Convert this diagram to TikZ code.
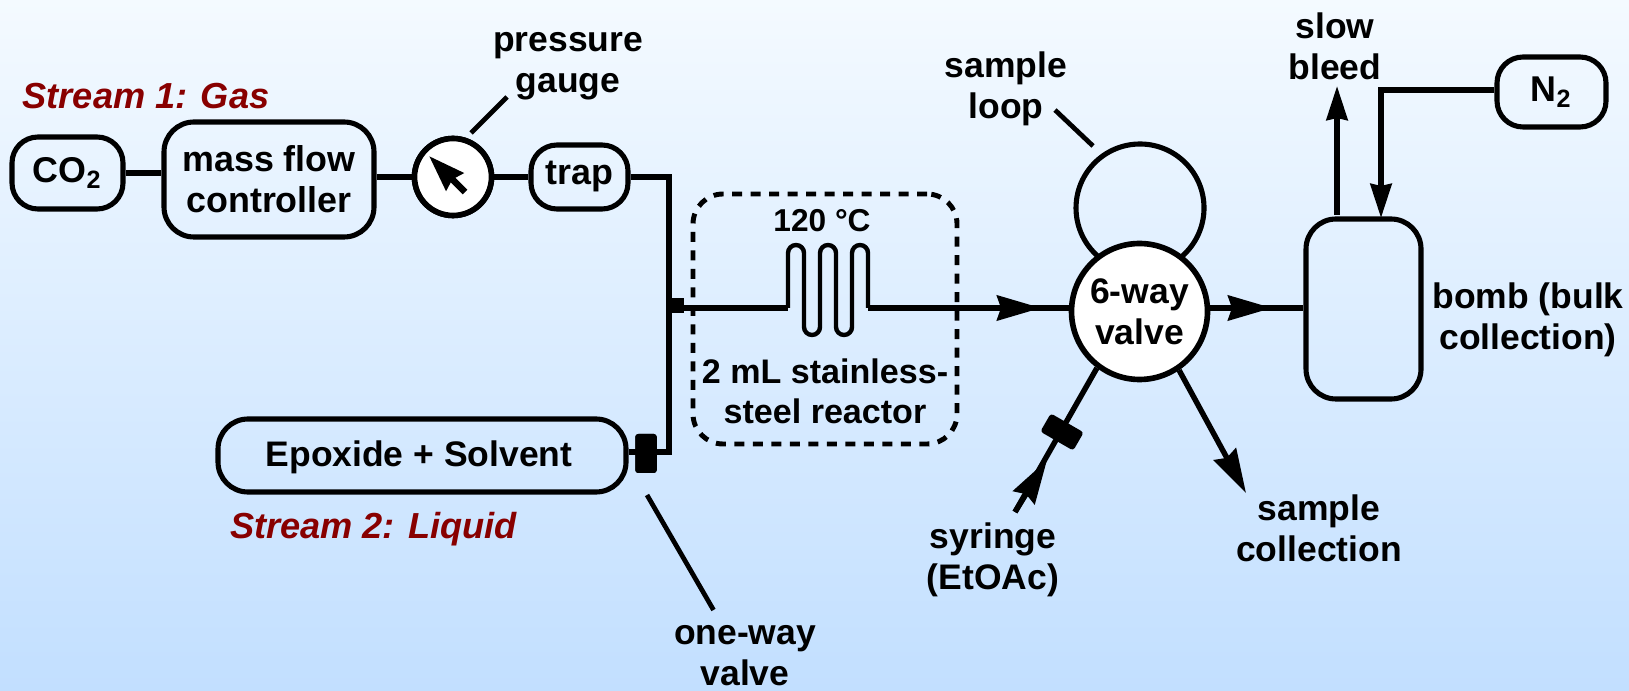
\documentclass[tikz,border=0pt]{standalone}
\usepackage{fontspec}
\setmainfont{Liberation Sans}
\usepackage{tikz}
\usetikzlibrary{calc}
\usetikzlibrary{arrows.meta}
\definecolor{skytop}{HTML}{F4FAFF}
\definecolor{skybottom}{HTML}{C2DFFF}
\definecolor{streamred}{HTML}{880000}
\tikzset{
    tag/.style={font=\fontsize{10.1}{11.65}\selectfont\bfseries, align=center, inner sep=0pt, anchor=center},
    streamtag/.style={font=\fontsize{10.3}{12}\selectfont\bfseries\itshape, text=streamred, inner sep=0pt, anchor=base},
    unitbox/.style={draw, line width=1.45pt, rounded corners=0.26cm, inner sep=0pt, font=\fontsize{10.2}{11.65}\selectfont\bfseries, align=center},
    dial/.style={draw, circle, fill=white, line width=1.6pt, inner sep=0pt, font=\fontsize{10.1}{11.65}\selectfont\bfseries, align=center},
    pipe/.style={line width=1.55pt},
    leader/.style={line width=1.35pt},
    bighead/.style={-{Stealth[length=0.44cm, width=0.25cm, inset=0.04cm]}},
    smallhead/.style={-{Stealth[length=0.34cm, width=0.21cm, inset=0.02cm]}},
    plug/.style={fill=black, rounded corners=0.03cm, inner sep=0pt},
}
\begin{document}
\begin{tikzpicture}
        \path[use as bounding box, shade, top color=skytop, bottom color=skybottom] (0,0) rectangle (16.29,6.90);
        \node[unitbox, minimum width=1.11cm, minimum height=0.72cm] (co2) at ( 0.675, 5.17) {CO\textsubscript{2}};
        \node[unitbox, minimum width=2.10cm, minimum height=1.15cm, rounded corners=0.30cm] (mfc) at ( 2.69, 5.105) {mass flow\\controller};
        \node[dial, minimum size=0.77cm] (gauge) at ( 4.53, 5.13) {};
        \node[unitbox, minimum width=0.97cm, minimum height=0.64cm, text height=0.25cm, text depth=0.09cm] (trap) at ( 5.795, 5.13) {trap};
        \node[unitbox, minimum width=4.08cm, minimum height=0.73cm, rounded corners=0.30cm] (epoxide) at ( 4.22, 2.345) {};
        \node[plug, minimum width=0.215cm, minimum height=0.39cm] (oneway) at ( 6.46, 2.365) {};
        \node[plug, rounded corners=0pt, minimum width=0.12cm, minimum height=0.15cm] (tee) at ( 6.78, 3.845) {};
        \node[draw, dashed, dash pattern=on 0.10cm off 0.085cm, line width=1.4pt, rounded corners=0.30cm, minimum width=2.64cm, minimum height=2.50cm] (reactor) at ( 8.25, 3.71) {};
        \node[draw, circle, line width=1.45pt, minimum size=1.28cm] (loop) at (11.40, 4.82) {};
        \node[dial, minimum size=1.36cm] (sixway) at (11.395, 3.785) {6-way\\valve};
        \node[plug, rotate=-30, minimum width=0.38cm, minimum height=0.21cm] (port) at (10.62, 2.58) {};
        \node[unitbox, minimum width=1.15cm, minimum height=1.80cm, rounded corners=0.30cm] (bomb) at (13.635, 3.81) {};
        \node[unitbox, minimum width=1.09cm, minimum height=0.70cm] (n2) at (15.515, 5.98) {N\textsubscript{2}};
        \node[streamtag] (stream1) at ( 1.46, 5.81) {Stream 1: Gas};
        \node[streamtag] (stream2) at ( 3.735, 1.52) {Stream 2: Liquid};
        \node[tag] (epoxidetag) at ( 4.19, 2.33) {Epoxide + Solvent};
        \node[tag] (gaugetag) at ( 5.68, 6.24) {pressure\\gauge};
        \node[tag] (looptag) at (10.06, 6.01) {sample\\loop};
        \node[tag] (bleedtag) at (13.35, 6.44) {slow\\bleed};
        \node[tag, font=\fontsize{9}{11}\selectfont\bfseries] (heattag) at ( 8.22, 4.69) {120 °C};
        \node[tag, font=\fontsize{9.7}{11.3}\selectfont\bfseries] (reactortag) at ( 8.25, 2.99) {2 mL stainless-\\steel reactor};
        \node[tag] (bombtag) at (15.28, 3.70) {bomb (bulk\\collection)};
        \node[tag] (syringetag) at ( 9.93, 1.305) {syringe\\(EtOAc)};
        \node[tag] (sampletag) at (13.19, 1.62) {sample\\collection};
        \node[tag] (onewaytag) at ( 7.45, 0.34) {one-way\\valve};
        \coordinate (elbowa) at ( 6.69, 5.13);
        \coordinate (elbowb) at ( 6.69, 2.38);
        \coordinate (coilin) at ( 7.88, 3.82);
        \coordinate (coilout) at ( 8.68, 3.82);
        \coordinate (tipa) at (10.41, 3.82);
        \coordinate (tipb) at (12.72, 3.82);
        \coordinate (tipc) at (12.46, 1.97);
        \coordinate (tipd) at (10.47, 2.30);
        \coordinate (tipe) at (13.37, 6.04);
        \coordinate (tipf) at (13.81, 4.72);
        \coordinate (elbowc) at (13.81, 6.00);
        \coordinate (syringeend) at (10.15, 1.78);
        \coordinate (bleedstart) at (13.37, 4.75);
        \coordinate (needletail) at ( 4.65, 4.98);
        \coordinate (needletip) at ( 4.29, 5.34);
        \draw[pipe] (co2.east) -- (co2.east -| mfc.west);
        \draw[pipe] (mfc.east |- gauge) -- (gauge);
        \draw[pipe] (gauge) -- (trap);
        \node[dial, minimum size=0.77cm] at (gauge) {};
        \draw[pipe, line join=miter] (trap.east) -- (elbowa) -- (elbowb) -- (elbowb -| epoxide.east);
        \node[plug, minimum width=0.215cm, minimum height=0.39cm] at (oneway) {};
        \draw[pipe] (elbowa |- coilin) -- (coilin);
        \draw[line width=1.25pt] (coilin) -- (7.88,4.37) arc (180:0:0.08) -- (8.04,3.63) arc (180:360:0.08)
            -- (8.20,4.37) arc (180:0:0.08) -- (8.36,3.63) arc (180:360:0.08)
            -- (8.52,4.37) arc (180:0:0.08) -- (coilout);
        \draw[pipe] (coilout) -- (sixway.west |- coilout);
        \draw[pipe, bighead] (coilout) -- (tipa);
        \draw[pipe] (sixway.east |- tipb) -- (bomb.west |- tipb);
        \draw[pipe, bighead] (sixway.east |- tipb) -- (tipb);
        \draw[pipe, bighead] (sixway.304) -- (tipc);
        \draw[pipe] (syringeend) -- (sixway.233);
        \draw[pipe, bighead] (syringeend) -- (tipd);
        \draw[pipe, smallhead] (bleedstart) -- (tipe);
        \draw[pipe, line join=miter, smallhead] (n2.west |- elbowc) -- (elbowc) -- (tipf);
        \draw[line width=1.9pt, -{Stealth[length=0.36cm, width=0.24cm, inset=0.03cm]}] (needletail) -- (needletip);
        \draw[leader] (4.71,5.57) -- (5.07,5.93);
        \draw[leader] (10.55,5.80) -- (10.93,5.44);
        \draw[leader] (6.47,1.95) -- (7.135,0.80);
\end{tikzpicture}
\end{document}
